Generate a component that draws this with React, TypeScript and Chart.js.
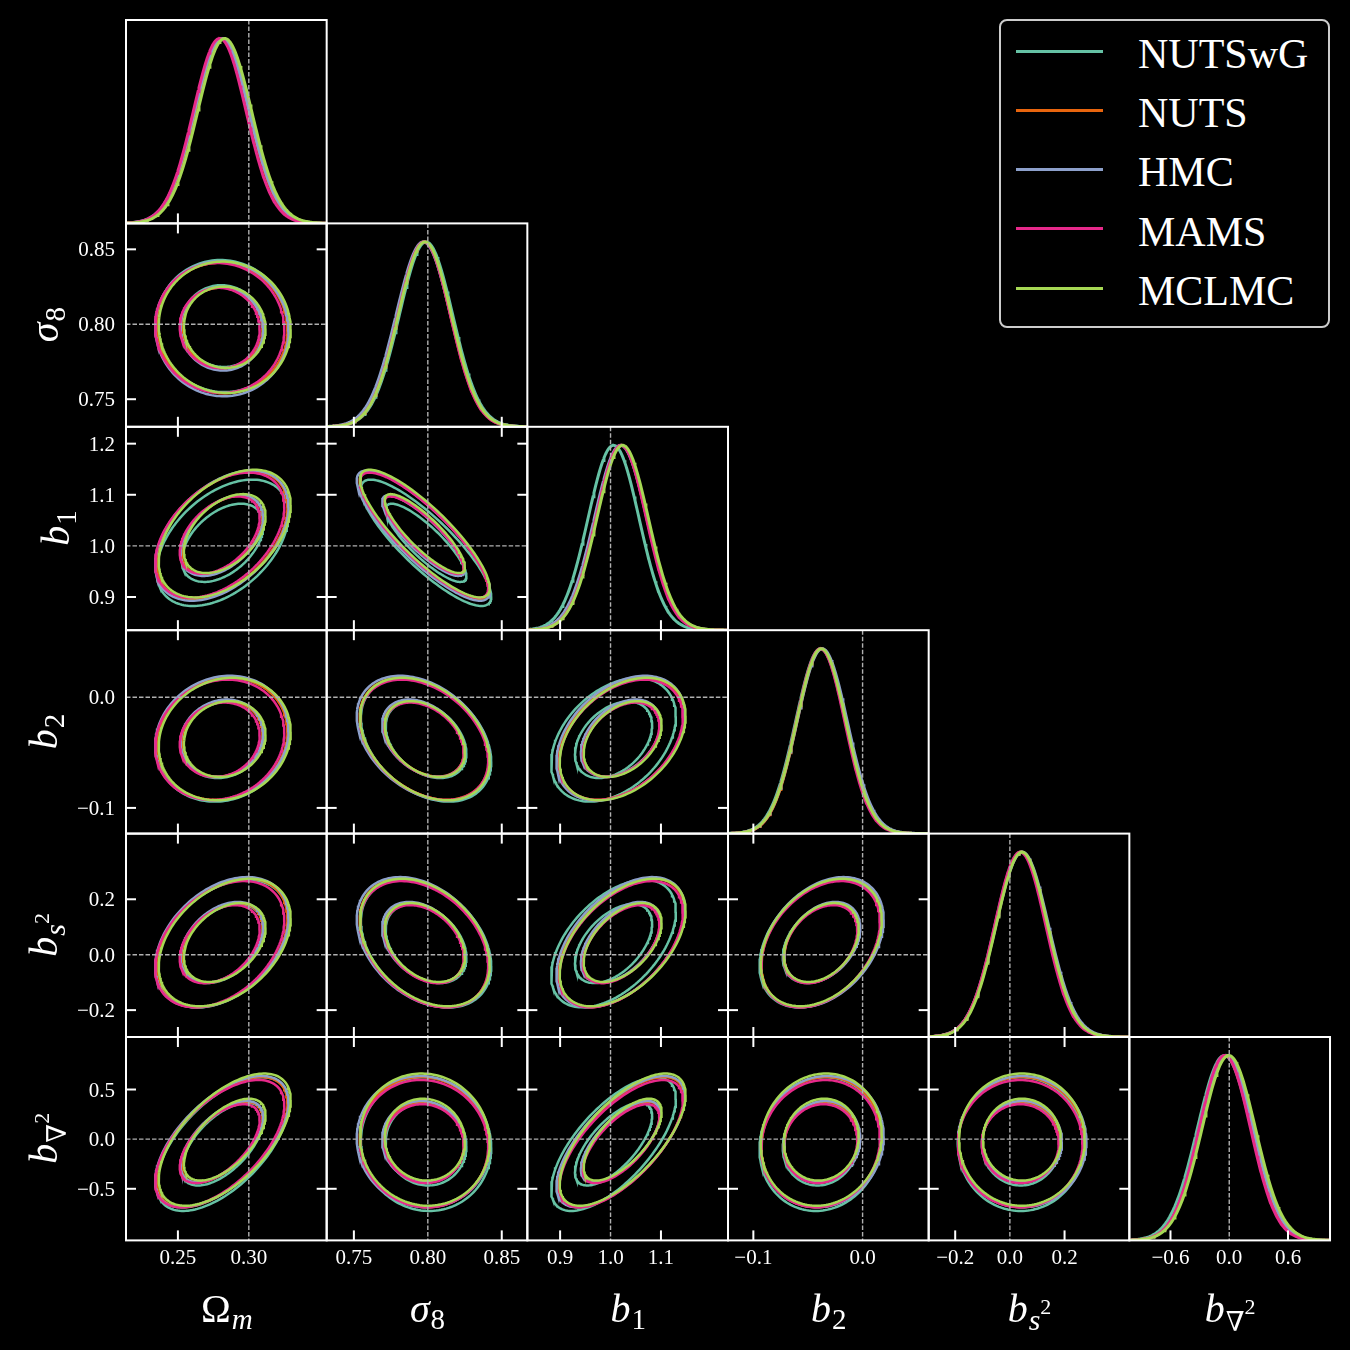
import React, { useEffect, useRef } from "react";
import { Chart, registerables } from "chart.js";

Chart.register(...registerables);

// ---------------- data ----------------
const SAMPLERS = ["NUTSwG", "NUTS", "HMC", "MAMS", "MCLMC"];
const COLORS = ["#66c2a5", "#e8650e", "#8da0cb", "#e7298a", "#a6d854"];

// parameters: Omega_m, sigma_8, b1, b2, b_s2, b_nabla2
const TRUTH = [0.3, 0.8, 1.0, 0.0, 0.0, 0.0];
const RANGE_MIN = [0.2134, 0.7316, 0.835, -0.1232, -0.297, -1.02];
const RANGE_MAX = [0.3549, 0.8673, 1.233, 0.0605, 0.437, 1.029];

const X_TICKS = [[0.25, 0.3], [0.75, 0.8, 0.85], [0.9, 1.0, 1.1], [-0.1, 0.0], [-0.2, 0.0, 0.2], [-0.6, 0.0, 0.6]];
const X_TICK_LABELS = [["0.25", "0.30"], ["0.75", "0.80", "0.85"], ["0.9", "1.0", "1.1"], ["−0.1", "0.0"], ["−0.2", "0.0", "0.2"], ["−0.6", "0.0", "0.6"]];
const Y_TICKS = [[], [0.75, 0.8, 0.85], [0.9, 1.0, 1.1, 1.2], [-0.1, 0.0], [-0.2, 0.0, 0.2], [-0.5, 0.0, 0.5]];
const Y_TICK_LABELS = [[], ["0.75", "0.80", "0.85"], ["0.9", "1.0", "1.1", "1.2"], ["−0.1", "0.0"], ["−0.2", "0.0", "0.2"], ["−0.5", "0.0", "0.5"]];

// posterior means per sampler (Ωm, σ8, b1, b2, bs2, b∇2)
const MEAN_NUTSWG = [0.2815, 0.7988, 1.006, -0.0385, 0.040, -0.050];
const MEAN_NUTS = [0.2812, 0.7975, 1.021, -0.0375, 0.043, -0.030];
const MEAN_HMC = [0.2810, 0.7970, 1.020, -0.0370, 0.045, -0.025];
const MEAN_MAMS = [0.2795, 0.7975, 1.021, -0.0385, 0.038, -0.045];
const MEAN_MCLMC = [0.2830, 0.7980, 1.024, -0.0378, 0.044, -0.005];

// posterior standard deviations per sampler
const SIGMA_NUTSWG = [0.0190, 0.0180, 0.0505, 0.0228, 0.094, 0.275];
const SIGMA_NUTS = [0.0188, 0.0178, 0.0510, 0.0225, 0.095, 0.268];
const SIGMA_HMC = [0.0192, 0.0184, 0.0520, 0.0230, 0.096, 0.270];
const SIGMA_MAMS = [0.0186, 0.0177, 0.0500, 0.0222, 0.093, 0.262];
const SIGMA_MCLMC = [0.0190, 0.0179, 0.0510, 0.0226, 0.094, 0.272];

// correlation of each row parameter with the preceding parameters
const CORR_S8 = [-0.03];
const CORR_B1 = [0.45, -0.85];
const CORR_B2 = [0.12, -0.35, 0.38];
const CORR_BS2 = [0.38, -0.35, 0.5, 0.35];
const CORR_BN2 = [0.6, -0.05, 0.68, 0.08, 0.0];

// 2-D contour levels (68% and 95%) in units of sigma
const CONTOUR_LEVELS = [1.515, 2.448];

const MEANS = [MEAN_NUTSWG, MEAN_NUTS, MEAN_HMC, MEAN_MAMS, MEAN_MCLMC];
const SIGMAS = [SIGMA_NUTSWG, SIGMA_NUTS, SIGMA_HMC, SIGMA_MAMS, SIGMA_MCLMC];
const CORR_ROWS = [[], CORR_S8, CORR_B1, CORR_B2, CORR_BS2, CORR_BN2];

// ---------------- layout / style ----------------
const SERIF = "'Liberation Serif', 'DejaVu Serif', serif";
const TICK_FONT = `21px ${SERIF}`;
const MATH_SIZE = 40;
const GRID_LEFT = 126;
const GRID_TOP = 20;
const CELL_W = 200.67;
const CELL_H = 203.4;
const N = 6;

type Seg = { t: string; it?: boolean; s: number; dy: number };
const AXIS_LABELS: Seg[][] = [
  [{ t: "Ω", s: 1, dy: 0 }, { t: "m", it: true, s: 0.72, dy: 7 }],
  [{ t: "σ", it: true, s: 1, dy: 0 }, { t: "8", s: 0.72, dy: 7 }],
  [{ t: "b", it: true, s: 1, dy: 0 }, { t: "1", s: 0.72, dy: 7 }],
  [{ t: "b", it: true, s: 1, dy: 0 }, { t: "2", s: 0.72, dy: 7 }],
  [{ t: "b", it: true, s: 1, dy: 0 }, { t: "s", it: true, s: 0.75, dy: 8 }, { t: "2", s: 0.55, dy: -8 }],
  [{ t: "b", it: true, s: 1, dy: 0 }, { t: "∇", s: 0.68, dy: 9 }, { t: "2", s: 0.55, dy: -8 }],
];

function segFont(seg: Seg) {
  return `${seg.it ? "italic " : ""}${Math.round(MATH_SIZE * seg.s)}px ${SERIF}`;
}

function drawMath(ctx: CanvasRenderingContext2D, segs: Seg[], x: number, y: number, rotated: boolean) {
  ctx.save();
  ctx.translate(x, y);
  if (rotated) ctx.rotate(-Math.PI / 2);
  const widths = segs.map((sg) => {
    ctx.font = segFont(sg);
    return ctx.measureText(sg.t).width;
  });
  const total = widths.reduce((a, b) => a + b, 0);
  let cx = -total / 2;
  ctx.textAlign = "left";
  ctx.textBaseline = "alphabetic";
  ctx.fillStyle = "#ffffff";
  segs.forEach((sg, i) => {
    ctx.font = segFont(sg);
    ctx.fillText(sg.t, cx, sg.dy);
    cx += widths[i] + (i === 0 ? 1 : 0);
  });
  ctx.restore();
}

function panelGeometry(row: number, col: number) {
  const pl = GRID_LEFT + col * CELL_W;
  const pt = GRID_TOP + row * CELL_H;
  const pr = pl + CELL_W;
  const pb = pt + CELL_H;
  const padL = col === 0 ? 126 : 6;
  const padB = row === N - 1 ? 104 : 6;
  const x = Math.floor(pl - padL);
  const y = Math.floor(pt - 6);
  const x2 = Math.ceil(pr + 6);
  const y2 = Math.ceil(pb + padB);
  return {
    x,
    y,
    w: x2 - x,
    h: y2 - y,
    padding: { left: pl - x, top: pt - y, right: x2 - pr, bottom: y2 - pb },
  };
}

function gaussianCurve(mu: number, sig: number, lo: number, hi: number) {
  const pts: { x: number; y: number }[] = [];
  const n = 220;
  for (let i = 0; i <= n; i++) {
    const x = lo + ((hi - lo) * i) / n;
    const z = (x - mu) / sig;
    pts.push({ x, y: Math.exp(-0.5 * z * z) });
  }
  return pts;
}

function ellipse(mx: number, my: number, sx: number, sy: number, rho: number, k: number) {
  const pts: { x: number; y: number }[] = [];
  const n = 160;
  const q = Math.sqrt(1 - rho * rho);
  for (let i = 0; i <= n; i++) {
    const t = (2 * Math.PI * i) / n;
    pts.push({
      x: mx + k * sx * Math.cos(t),
      y: my + k * sy * (rho * Math.cos(t) + q * Math.sin(t)),
    });
  }
  return pts;
}

function makePlugin(row: number, col: number) {
  return {
    id: `corner_${row}_${col}`,
    afterDraw(chart: any) {
      const ctx: CanvasRenderingContext2D = chart.ctx;
      const a = chart.chartArea;
      const xs = chart.scales.x;
      const ys = chart.scales.y;
      const diag = row === col;
      const line = (x1: number, y1: number, x2: number, y2: number) => {
        ctx.beginPath();
        ctx.moveTo(x1, y1);
        ctx.lineTo(x2, y2);
        ctx.stroke();
      };
      ctx.save();
      // truth lines
      ctx.strokeStyle = "#b0b0b0";
      ctx.lineWidth = 1.4;
      ctx.setLineDash([4.5, 2]);
      const tx = xs.getPixelForValue(TRUTH[col]);
      line(tx, a.top, tx, a.bottom);
      if (!diag) {
        const ty = ys.getPixelForValue(TRUTH[row]);
        line(a.left, ty, a.right, ty);
      }
      ctx.setLineDash([]);
      // ticks (inward)
      ctx.strokeStyle = "#ffffff";
      ctx.lineWidth = 2;
      const TL = 10;
      X_TICKS[col].forEach((v) => {
        if (Math.abs(v - TRUTH[col]) < 1e-9) return;
        const px = xs.getPixelForValue(v);
        line(px, a.bottom, px, a.bottom - TL);
        if (!diag) line(px, a.top, px, a.top + TL);
      });
      if (!diag) {
        Y_TICKS[row].forEach((v) => {
          if (Math.abs(v - TRUTH[row]) < 1e-9) return;
          const py = ys.getPixelForValue(v);
          line(a.left, py, a.left + TL, py);
          line(a.right, py, a.right - TL, py);
        });
      }
      // frame
      ctx.strokeRect(a.left, a.top, a.right - a.left, a.bottom - a.top);
      // tick labels
      ctx.fillStyle = "#ffffff";
      ctx.font = TICK_FONT;
      if (row === N - 1) {
        ctx.textAlign = "center";
        ctx.textBaseline = "alphabetic";
        X_TICKS[col].forEach((v, i) => {
          ctx.fillText(X_TICK_LABELS[col][i], xs.getPixelForValue(v), a.bottom + 24);
        });
        drawMath(ctx, AXIS_LABELS[col], (a.left + a.right) / 2, a.bottom + 81.5, false);
      }
      if (col === 0 && !diag) {
        ctx.font = TICK_FONT;
        ctx.textAlign = "right";
        ctx.textBaseline = "alphabetic";
        const rx = a.left - 11;
        let minLeft = rx;
        Y_TICKS[row].forEach((v, i) => {
          const lbl = Y_TICK_LABELS[row][i];
          ctx.fillText(lbl, rx, ys.getPixelForValue(v) + 7);
          minLeft = Math.min(minLeft, rx - ctx.measureText(lbl).width);
        });
        drawMath(ctx, AXIS_LABELS[row], minLeft - 20, (a.top + a.bottom) / 2, true);
      }
      ctx.restore();
    },
  };
}

function buildDatasets(row: number, col: number) {
  const ds: any[] = [];
  const nS = SAMPLERS.length;
  if (row === col) {
    SAMPLERS.forEach((_, s) => {
      ds.push({
        data: gaussianCurve(MEANS[s][col], SIGMAS[s][col], RANGE_MIN[col], RANGE_MAX[col]),
        borderColor: COLORS[s],
        borderWidth: 3,
        showLine: true,
        pointRadius: 0,
        fill: false,
        tension: 0,
        clip: 0,
        order: nS - s,
      });
    });
  } else {
    const rho = CORR_ROWS[row][col];
    SAMPLERS.forEach((_, s) => {
      CONTOUR_LEVELS.forEach((k) => {
        ds.push({
          data: ellipse(MEANS[s][col], MEANS[s][row], SIGMAS[s][col], SIGMAS[s][row], rho, k),
          borderColor: COLORS[s],
          borderWidth: 2.5,
          showLine: true,
          pointRadius: 0,
          fill: false,
          tension: 0,
          clip: 0,
          order: nS - s,
        });
      });
    });
  }
  return ds;
}

function Panel({ row, col }: { row: number; col: number }) {
  const ref = useRef<HTMLCanvasElement>(null);
  const g = panelGeometry(row, col);
  useEffect(() => {
    const diag = row === col;
    const chart = new Chart(ref.current as HTMLCanvasElement, {
      type: "scatter",
      data: { datasets: buildDatasets(row, col) },
      options: {
        responsive: false,
        animation: false,
        devicePixelRatio: 1,
        events: [],
        layout: { padding: g.padding },
        scales: {
          x: { type: "linear", min: RANGE_MIN[col], max: RANGE_MAX[col], display: false },
          y: {
            type: "linear",
            min: diag ? 0 : RANGE_MIN[row],
            max: diag ? 1.1 : RANGE_MAX[row],
            display: false,
          },
        },
        plugins: { legend: { display: false }, tooltip: { enabled: false } },
      } as any,
      plugins: [makePlugin(row, col)],
    });
    return () => chart.destroy();
  }, []);
  return (
    <canvas
      ref={ref}
      width={g.w}
      height={g.h}
      style={{ position: "absolute", left: g.x, top: g.y, width: g.w, height: g.h }}
    />
  );
}

const LEG_Y0 = 51;
const LEG_DY = 59.25;

export default function App() {
  const panels: { row: number; col: number }[] = [];
  for (let r = 0; r < N; r++) for (let c = 0; c <= r; c++) panels.push({ row: r, col: c });
  return (
    <div
      style={{
        position: "fixed",
        left: 0,
        top: 0,
        width: 1350,
        height: 1350,
        background: "#000",
        overflow: "hidden",
      }}
    >
      {panels.map((p) => (
        <Panel key={`${p.row}-${p.col}`} row={p.row} col={p.col} />
      ))}
      <div
        style={{
          position: "absolute",
          left: 999,
          top: 19,
          width: 331,
          height: 309,
          boxSizing: "border-box",
          border: "2px solid #cccccc",
          borderRadius: 8,
          background: "#000",
        }}
      />
      {SAMPLERS.map((s, i) => (
        <React.Fragment key={s}>
          <div
            style={{
              position: "absolute",
              left: 1016,
              top: LEG_Y0 + i * LEG_DY - 1.5,
              width: 87,
              height: 3,
              background: COLORS[i],
            }}
          />
          <div
            style={{
              position: "absolute",
              left: 1138,
              top: LEG_Y0 + i * LEG_DY - 18.2,
              fontFamily: SERIF,
              fontSize: 42,
              lineHeight: "42px",
              color: "#fff",
              whiteSpace: "nowrap",
            }}
          >
            {s}
          </div>
        </React.Fragment>
      ))}
    </div>
  );
}
